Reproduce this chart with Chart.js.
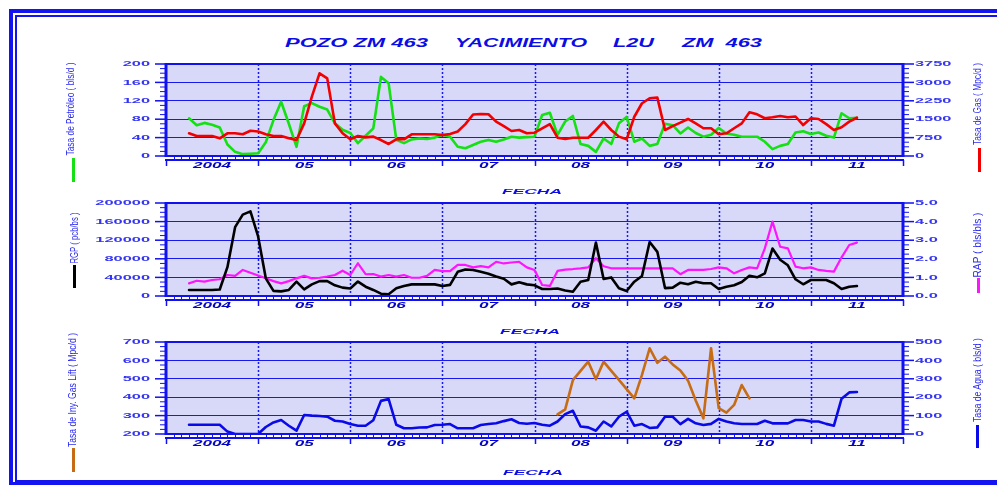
<!DOCTYPE html>
<html>
<head>
<meta charset="utf-8">
<script src="https://cdn.jsdelivr.net/npm/chart.js@4.4.1/dist/chart.umd.min.js"></script>
<style>
  html, body { margin: 0; padding: 0; background: #fff; overflow: hidden; }
  #page { position: relative; width: 997px; height: 485px; overflow: hidden; background: #fff; }
  .frame-out { position: absolute; left: 9px; top: 9px; width: 988px; height: 476px; box-sizing: border-box;
               border-left: 4px solid #1414f0; border-top: 4px solid #1414f0; border-bottom: 3px solid #1414f0; }
  .frame-in { position: absolute; left: 15px; top: 15px; width: 982px; height: 467px; box-sizing: border-box;
              border-left: 2px solid #1414f0; border-top: 2px solid #1414f0; border-bottom: 2px solid #1414f0; }
  canvas { position: absolute; left: 0; }
  .txt { position: absolute; white-space: pre; z-index: 5; line-height: 1; }
  .mark { position: absolute; width: 3px; z-index: 5; }
</style>
</head>
<body>
<div id="page">
  <div class="frame-out"></div>
  <div class="frame-in"></div>
  <canvas id="c1" width="997" height="136" style="top:50px"></canvas>
  <canvas id="c2" width="997" height="137" style="top:189px"></canvas>
  <canvas id="c3" width="997" height="136" style="top:328px"></canvas>
</div>
<script>
// Monthly production history, well ZM 463 (months counted from January 2004)
const START_MONTH = 3;                 // first record: April 2004
const yearLabels = ['2004', '05', '06', '07', '08', '09', '10', '11'];

// Tasa de Petróleo (bls/d)
const petroleo = [
  82, 67, 72, 68, 62, 25, 9, 4, 5, 6,
  30, 78, 118, 70, 20, 108, 115, 107, 101, 71,
  57, 50, 28, 44, 60, 172, 158, 35, 28, 36,
  38, 37, 40, 46, 42, 20, 17, 24, 31, 35,
  31, 36, 42, 40, 41, 42, 89, 94, 46, 75,
  87, 26, 22, 9, 38, 26, 71, 85, 31, 38,
  22, 26, 70, 67, 49, 62, 50, 42, 46, 61,
  49, 46, 42, 42, 42, 31, 15, 22, 26, 51,
  54, 48, 51, 44, 40, 93, 82, 83
];
// Tasa de Gas (Mpc/d)
const gas = [
  925, 815, 815, 815, 720, 925, 925, 885, 1030, 1000,
  885, 815, 815, 720, 650, 1330, 2420, 3370, 3165, 1330,
  925, 680, 815, 760, 790, 650, 490, 680, 680, 885,
  885, 885, 885, 850, 900, 1000, 1300, 1690, 1710, 1700,
  1400, 1220, 1020, 1060, 925, 950, 1130, 1300, 745, 690,
  745, 745, 745, 1060, 1400, 1060, 790, 680, 1600, 2150,
  2350, 2380, 1060, 1220, 1360, 1510, 1330, 1130, 1130, 885,
  925, 1130, 1330, 1780, 1700, 1540, 1580, 1630, 1580, 1610,
  1260, 1540, 1510, 1300, 1060, 1170, 1400, 1560
];
// RGP (pcb/bs)
const rgp = [
  12900, 12900, 12900, 13000, 14000, 62000, 148000, 175000, 182000, 128000,
  38000, 11000, 10000, 13000, 31000, 14400, 25000, 32000, 32000, 23000,
  18000, 16000, 31000, 20000, 13000, 5000, 3600, 16500, 21500, 25000,
  25000, 25000, 25000, 21500, 24000, 52000, 57000, 56000, 52000, 48000,
  42000, 37000, 25000, 29500, 25000, 23000, 15000, 15000, 16000, 12000,
  9200, 30800, 34400, 115000, 36600, 40000, 16500, 10800, 30800, 43000,
  116000, 95000, 17000, 18000, 28600, 25200, 30800, 27300, 27300, 15000,
  20000, 23000, 30000, 43700, 40200, 48800, 102000, 78000, 66000, 36000,
  25200, 34400, 34400, 34400, 27300, 15000, 20000, 21500
];
// RAP (bls/bls)
const rap = [
  0.68, 0.82, 0.77, 0.86, 0.90, 1.13, 1.08, 1.40, 1.25, 1.10,
  0.95, 0.80, 0.68, 0.80, 0.95, 1.08, 0.95, 0.98, 1.05, 1.13,
  1.36, 1.13, 1.76, 1.17, 1.18, 1.04, 1.13, 1.04, 1.13, 0.98,
  0.98, 1.08, 1.40, 1.34, 1.34, 1.67, 1.67, 1.54, 1.61, 1.54,
  1.84, 1.75, 1.80, 1.84, 1.54, 1.40, 0.59, 0.54, 1.35, 1.42,
  1.45, 1.49, 1.54, 2.03, 1.60, 1.49, 1.49, 1.49, 1.49, 1.49,
  1.49, 1.49, 1.49, 1.49, 1.17, 1.40, 1.40, 1.40, 1.45, 1.54,
  1.49, 1.22, 1.40, 1.54, 1.49, 2.56, 4.00, 2.65, 2.56, 1.58,
  1.49, 1.54, 1.40, 1.35, 1.31, 2.08, 2.74, 2.87
];
// Tasa de Agua (bls/d)
const agua = [
  50, 50, 50, 50, 50, 13, 0, 0, 0, 0,
  38, 63, 76, 45, 18, 103, 100, 98, 94, 72,
  68, 54, 45, 45, 75, 180, 190, 50, 31, 31,
  35, 36, 49, 50, 54, 31, 31, 31, 49, 54,
  58, 70, 80, 60, 56, 60, 50, 45, 68, 108,
  126, 41, 36, 18, 68, 41, 94, 121, 45, 54,
  33, 36, 94, 94, 54, 82, 58, 49, 55, 82,
  68, 58, 54, 54, 54, 72, 58, 58, 58, 76,
  76, 68, 68, 55, 45, 192, 226, 228
];
// Tasa de Iny. Gas Lift (Mpc/d), recorded from April 2008 to May 2010
const GAS_LIFT_START = 51;
const gasLift = [
  307, 334, 493, 543, 593, 497, 593, 543, 494, 444,
  394, 521, 666, 587, 620, 578, 545, 490, 382, 285,
  666, 340, 316, 358, 466, 394
];

// Axis tick values
const petroleoTicks = [0, 40, 80, 120, 160, 200];
const gasTicks = [0, 750, 1500, 2250, 3000, 3750];
const rgpTicks = [0, 40000, 80000, 120000, 160000, 200000];
const rapTicks = [0, 1, 2, 3, 4, 5];
const gasLiftTicks = [200, 300, 400, 500, 600, 700];
const aguaTicks = [0, 100, 200, 300, 400, 500];

const BLUE = '#1010f0';
const GRID = '#1818f0';
const PLOT_BG = '#d8d8f8';
const TICK_TXT = '#3434f2';
const YEAR_TXT = '#0505c0';

const toPoints = (arr, start) => arr.map((v, i) => ({ x: start + i, y: v }));

function stretchedText(ctx, text, x, y, align, sx, font, color) {
  ctx.save();
  ctx.font = font;
  ctx.fillStyle = color;
  ctx.textBaseline = 'middle';
  ctx.textAlign = 'left';
  const w = ctx.measureText(text).width * sx;
  const x0 = align === 'right' ? x - w : align === 'center' ? x - w / 2 : x;
  ctx.translate(x0, y);
  ctx.scale(sx, 1);
  ctx.fillText(text, 0, 0);
  ctx.restore();
}

function seg(ctx, x1, y1, x2, y2) {
  ctx.beginPath(); ctx.moveTo(x1, y1); ctx.lineTo(x2, y2); ctx.stroke();
}

function makeDecor(panel) {
  return {
    id: 'decor',
    beforeDraw(chart) {
      const { ctx, chartArea: a } = chart;
      ctx.save();
      ctx.fillStyle = PLOT_BG;
      ctx.fillRect(a.left, a.top, a.right - a.left, a.bottom - a.top);
      ctx.restore();
    },
    beforeDatasetsDraw(chart) {
      const { ctx, chartArea: a, scales } = chart;
      ctx.save();
      ctx.strokeStyle = GRID;
      ctx.lineWidth = 1.5;
      ctx.setLineDash([2, 2]);
      scales.x.ticks.forEach(t => {
        if (t.value % 12 === 0 && t.value > 0 && t.value < 96) {
          const px = Math.round(scales.x.getPixelForValue(t.value)) + 0.5;
          seg(ctx, px, a.top, px, a.bottom);
        }
      });
      ctx.restore();
    },
    afterDraw(chart) {
      const { ctx, chartArea: a, scales } = chart;
      const yl = scales.y, yr = scales.y1, xs = scales.x;
      ctx.save();
      ctx.strokeStyle = BLUE;
      // plot frame
      ctx.lineWidth = 2;
      seg(ctx, a.left, a.top, a.right, a.top);
      seg(ctx, a.left, a.bottom, a.right, a.bottom);
      ctx.lineWidth = 3;
      seg(ctx, a.left, a.top - 1, a.left, a.bottom + 1);
      seg(ctx, a.right, a.top - 1, a.right, a.bottom + 1);

      // left and right value axes: major + minor ticks
      const drawTicks = (scale, side) => {
        const vals = scale.ticks.map(t => t.value);
        const step = vals[1] - vals[0];
        const x0 = side < 0 ? a.left : a.right;
        vals.forEach((v, i) => {
          const py = scale.getPixelForValue(v);
          ctx.lineWidth = 1.5;
          seg(ctx, x0, py, x0 + side * 11, py);
          if (i < vals.length - 1) {
            ctx.lineWidth = 1;
            for (let k = 1; k < 4; k++) {
              const pm = scale.getPixelForValue(v + step * k / 4);
              seg(ctx, x0, pm, x0 + side * 6, pm);
            }
          }
        });
      };
      drawTicks(yl, -1);
      drawTicks(yr, 1);

      // time axis below the plot
      const axY = a.bottom + 4;
      ctx.lineWidth = 2;
      seg(ctx, a.left - 1, axY, a.right + 1, axY);
      xs.ticks.forEach(t => {
        const px = Math.round(xs.getPixelForValue(t.value)) + 0.5;
        if (t.value % 12 === 0) { ctx.lineWidth = 1.5; seg(ctx, px, axY, px, axY + 6); }
        else { ctx.lineWidth = 1; seg(ctx, px, axY - 3, px, axY); }
      });
      ctx.restore();

      const tickFont = 'bold 8px "Liberation Sans"';
      yl.ticks.forEach(t => stretchedText(ctx, panel.leftFmt(t.value), a.left - 16,
        yl.getPixelForValue(t.value), 'right', 2.05, tickFont, TICK_TXT));
      yr.ticks.forEach(t => stretchedText(ctx, panel.rightFmt(t.value), a.right + 12,
        yr.getPixelForValue(t.value), 'left', 2.05, tickFont, TICK_TXT));
      yearLabels.forEach((lab, i) => stretchedText(ctx, lab, xs.getPixelForValue(6 + 12 * i),
        axY + 6, 'center', 1.9, 'bold italic 9px "Liberation Sans"', YEAR_TXT));
    }
  };
}

const panels = [
  {
    canvas: 'c1',
    left: { min: 0, max: 200, ticks: petroleoTicks },
    right: { min: 0, max: 3750, ticks: gasTicks },
    leftFmt: v => String(v), rightFmt: v => String(v),
    series: [
      { data: toPoints(gas, START_MONTH), color: '#f20000', axis: 'y1', order: 1, width: 2.6 },
      { data: toPoints(petroleo, START_MONTH), color: '#14e014', axis: 'y', order: 2, width: 2.6 }
    ]
  },
  {
    canvas: 'c2',
    left: { min: 0, max: 200000, ticks: rgpTicks },
    right: { min: 0, max: 5, ticks: rapTicks },
    leftFmt: v => String(v), rightFmt: v => v.toFixed(1),
    series: [
      { data: toPoints(rgp, START_MONTH), color: '#000000', axis: 'y', order: 1, width: 2.6 },
      { data: toPoints(rap, START_MONTH), color: '#ff14ff', axis: 'y1', order: 2, width: 2.2 }
    ]
  },
  {
    canvas: 'c3',
    left: { min: 200, max: 700, ticks: gasLiftTicks },
    right: { min: 0, max: 500, ticks: aguaTicks },
    leftFmt: v => String(v), rightFmt: v => String(v),
    series: [
      { data: toPoints(gasLift, GAS_LIFT_START), color: '#c66c14', axis: 'y', order: 1, width: 2.6 },
      { data: toPoints(agua, START_MONTH), color: '#0a0ae8', axis: 'y1', order: 2, width: 2.6 }
    ]
  }
];

const monthTicks = Array.from({ length: 97 }, (_, m) => ({ value: m }));

panels.forEach(p => {
  const valueAxis = (range, pos, width, showGrid) => ({
    type: 'linear', position: pos, min: range.min, max: range.max,
    afterBuildTicks: s => { s.ticks = range.ticks.map(v => ({ value: v })); },
    afterFit: s => { s.width = width; },
    ticks: { display: false },
    border: { display: false },
    grid: { display: showGrid, color: GRID, lineWidth: 1, drawTicks: false }
  });
  new Chart(document.getElementById(p.canvas), {
    type: 'line',
    data: {
      datasets: p.series.map(s => ({
        data: s.data, yAxisID: s.axis, borderColor: s.color, borderWidth: s.width,
        pointRadius: 0, tension: 0, fill: false, order: s.order,
        borderJoinStyle: 'round', borderCapStyle: 'round'
      }))
    },
    options: {
      responsive: false, animation: false, events: [],
      layout: { padding: { top: 14, left: 100, right: 40, bottom: 0 } },
      plugins: { legend: { display: false }, tooltip: { enabled: false }, title: { display: false } },
      scales: {
        x: {
          type: 'linear', position: 'bottom', min: 0, max: 96,
          afterBuildTicks: s => { s.ticks = monthTicks.slice(); },
          afterFit: s => { s.height = 30; },
          ticks: { display: false }, border: { display: false }, grid: { display: false }
        },
        y: valueAxis(p.left, 'left', 66, true),
        y1: valueAxis(p.right, 'right', 54, false)
      }
    },
    plugins: [makeDecor(p)]
  });
});

// ---- text overlays ----
const page = document.getElementById('page');

function hText(text, left, width, cy, font, size, color) {
  const el = document.createElement('div');
  el.className = 'txt';
  el.textContent = text;
  el.style.font = font;
  el.style.fontSize = size + 'px';
  el.style.color = color;
  el.style.left = left + 'px';
  el.style.top = (cy - size * 0.49) + 'px';
  el.style.transformOrigin = '0 50%';
  page.appendChild(el);
  const w = el.getBoundingClientRect().width;
  el.style.transform = 'scaleX(' + (width / w) + ')';
}

function vText(text, cx, yTop, yBottom, size, color) {
  const el = document.createElement('div');
  el.className = 'txt';
  el.textContent = text;
  el.style.font = '400 ' + size + 'px "Liberation Sans"';
  el.style.color = color;
  el.style.left = cx + 'px';
  el.style.top = ((yTop + yBottom) / 2) + 'px';
  page.appendChild(el);
  const w = el.getBoundingClientRect().width;
  el.style.transform = 'translate(-50%,-50%) rotate(-90deg) scaleX(' + ((yBottom - yTop) / w) + ')';
}

function marker(cx, yTop, yBottom, color) {
  const el = document.createElement('div');
  el.className = 'mark';
  el.style.left = (cx - 1.5) + 'px';
  el.style.top = yTop + 'px';
  el.style.height = (yBottom - yTop) + 'px';
  el.style.background = color;
  page.appendChild(el);
}

const TITLE_FONT = 'italic 700 12px "Liberation Sans"';
const TITLE_COL = '#0c0ce6';
hText('POZO ZM 463', 285, 143, 42, TITLE_FONT, 12, TITLE_COL);
hText('YACIMIENTO', 455, 132, 42, TITLE_FONT, 12, TITLE_COL);
hText('L2U', 613, 41, 42, TITLE_FONT, 12, TITLE_COL);
hText('ZM  463', 682, 80, 42, TITLE_FONT, 12, TITLE_COL);

const FECHA_FONT = 'italic 700 8px "Liberation Sans"';
hText('FECHA', 502, 60, 191, FECHA_FONT, 8, TITLE_COL);
hText('FECHA', 500, 60, 331, FECHA_FONT, 8, TITLE_COL);
hText('FECHA', 503, 60, 472, FECHA_FONT, 8, TITLE_COL);

const AX_TXT = '#2a2af0';
vText('Tasa de Petróleo ( bls/d )', 70, 62, 155, 11, AX_TXT);
marker(73, 158, 182, '#14e014');
vText('Tasa de Gas ( Mpc/d )', 977, 63, 145, 11, AX_TXT);
marker(979, 148, 172, '#f20000');

vText('RGP ( pcb/bs )', 74, 212, 263, 11, AX_TXT);
marker(74, 265, 288, '#000000');
vText('RAP ( bls/bls )', 977, 212, 277, 11, AX_TXT);
marker(978, 278, 293, '#ff14ff');

vText('Tasa de Iny. Gas Lift ( Mpc/d )', 72, 333, 447, 11, AX_TXT);
marker(73, 448, 472, '#c66c14');
vText('Tasa de Agua ( bls/d )', 977, 338, 422, 11, AX_TXT);
marker(977, 425, 448, '#0a0ae8');
</script>
</body>
</html>
